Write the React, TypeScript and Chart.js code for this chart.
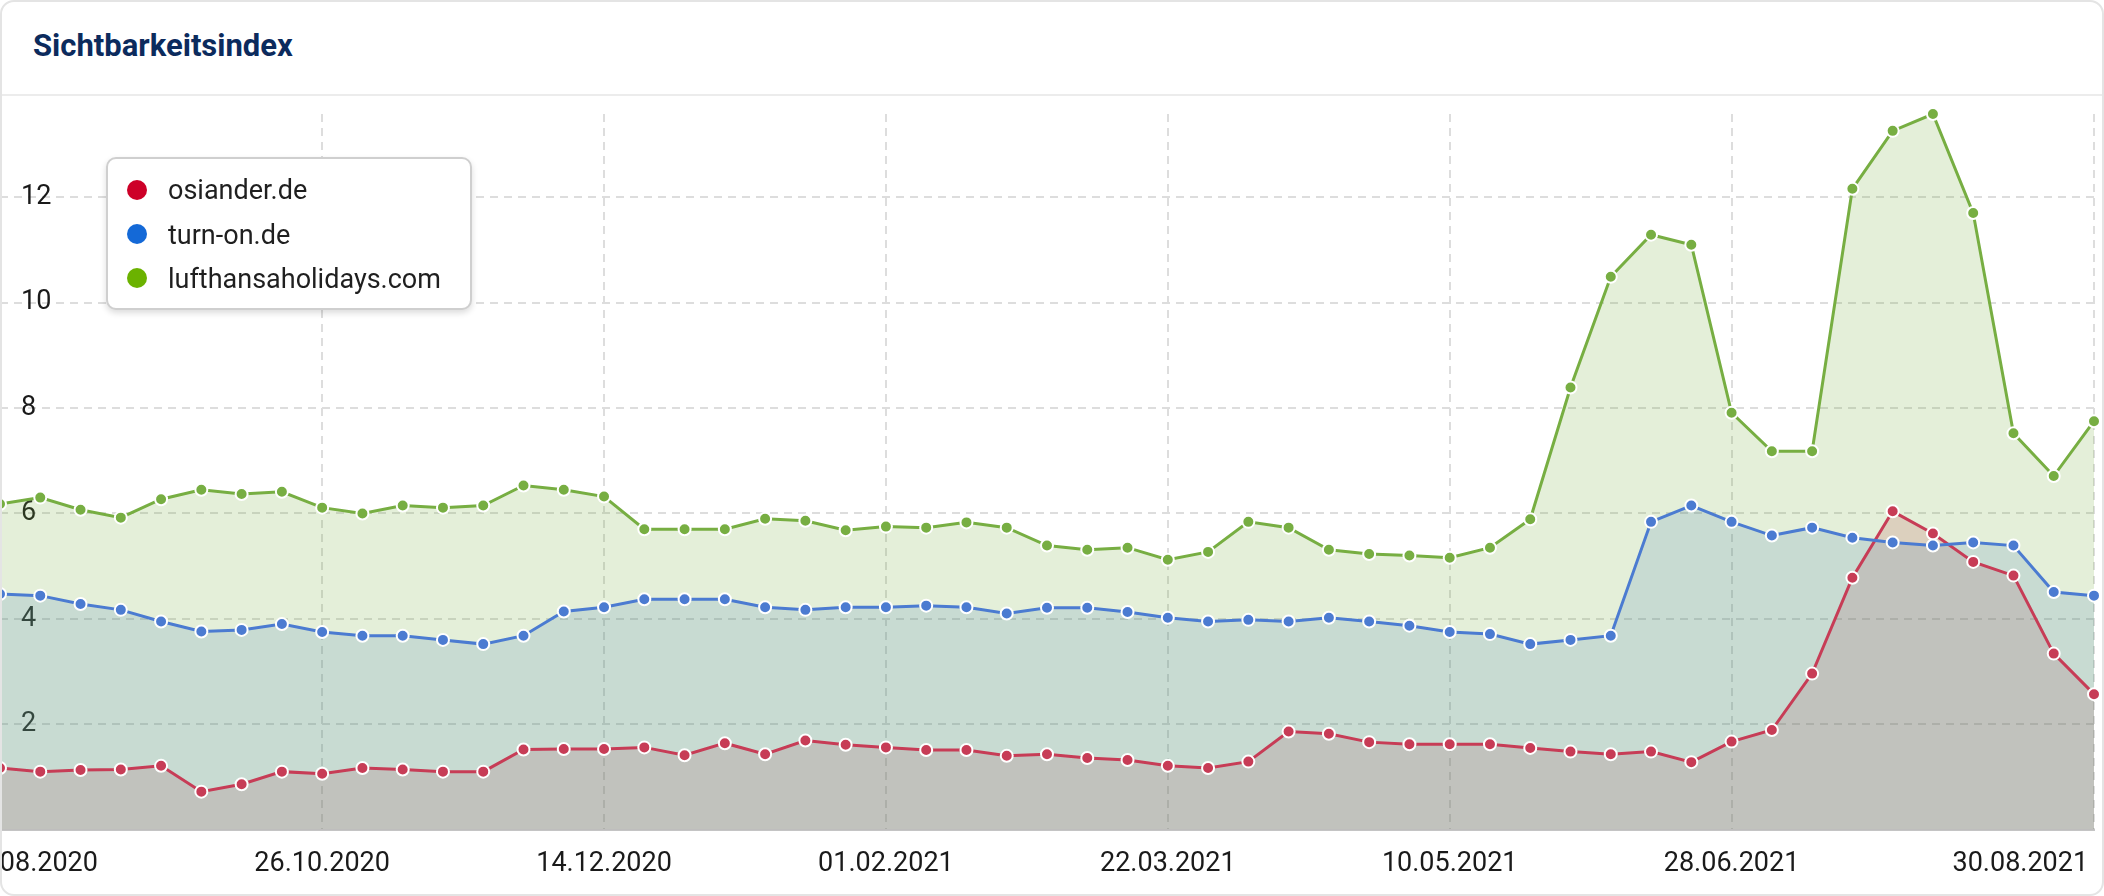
import React, { useEffect, useRef } from "react";
import { Chart, registerables } from "chart.js";

Chart.register(...registerables);

const TITLE = "Sichtbarkeitsindex";

const DATES = [
  "31.08.2020", "07.09.2020", "14.09.2020", "21.09.2020", "28.09.2020", "05.10.2020", "12.10.2020", "19.10.2020",
  "26.10.2020", "02.11.2020", "09.11.2020", "16.11.2020", "23.11.2020", "30.11.2020", "07.12.2020", "14.12.2020",
  "21.12.2020", "28.12.2020", "04.01.2021", "11.01.2021", "18.01.2021", "25.01.2021", "01.02.2021", "08.02.2021",
  "15.02.2021", "22.02.2021", "01.03.2021", "08.03.2021", "15.03.2021", "22.03.2021", "29.03.2021", "05.04.2021",
  "12.04.2021", "19.04.2021", "26.04.2021", "03.05.2021", "10.05.2021", "17.05.2021", "24.05.2021", "31.05.2021",
  "07.06.2021", "14.06.2021", "21.06.2021", "28.06.2021", "05.07.2021", "12.07.2021", "19.07.2021", "26.07.2021",
  "02.08.2021", "09.08.2021", "16.08.2021", "23.08.2021", "30.08.2021",
];

const TICK_DATES = [
  "31.08.2020", "26.10.2020", "14.12.2020", "01.02.2021", "22.03.2021", "10.05.2021", "28.06.2021", "30.08.2021",
];

const OSIANDER = [
  1.17, 1.10, 1.13, 1.14, 1.21, 0.72, 0.86, 1.10, 1.06, 1.17, 1.14, 1.10, 1.10, 1.52, 1.53, 1.53,
  1.56, 1.41, 1.64, 1.43, 1.69, 1.61, 1.56, 1.51, 1.51, 1.40, 1.43, 1.36, 1.32, 1.21, 1.17, 1.29,
  1.86, 1.82, 1.66, 1.62, 1.62, 1.62, 1.55, 1.48, 1.43, 1.48, 1.28, 1.67, 1.89, 2.96, 4.78, 6.04,
  5.62, 5.08, 4.82, 3.34, 2.57,
];

const TURN_ON = [
  4.47, 4.44, 4.28, 4.17, 3.95, 3.76, 3.79, 3.90, 3.75, 3.68, 3.68, 3.60, 3.52, 3.68, 4.14, 4.22,
  4.37, 4.37, 4.37, 4.22, 4.17, 4.22, 4.22, 4.25, 4.22, 4.10, 4.21, 4.21, 4.13, 4.02, 3.95, 3.98,
  3.95, 4.02, 3.95, 3.87, 3.75, 3.71, 3.52, 3.60, 3.68, 5.84, 6.15, 5.84, 5.58, 5.73, 5.54, 5.45,
  5.39, 5.45, 5.39, 4.51, 4.44,
];

const LUFTHANSA = [
  6.18, 6.30, 6.07, 5.92, 6.27, 6.45, 6.37, 6.41, 6.11, 6.00, 6.15, 6.11, 6.15, 6.53, 6.45, 6.32,
  5.70, 5.70, 5.70, 5.90, 5.86, 5.68, 5.75, 5.73, 5.83, 5.73, 5.39, 5.31, 5.35, 5.12, 5.27, 5.84,
  5.73, 5.31, 5.23, 5.20, 5.16, 5.35, 5.89, 8.39, 10.49, 11.29, 11.10, 7.91, 7.18, 7.18, 12.16, 13.26,
  13.58, 11.70, 7.52, 6.71, 7.75,
];

const SERIES_NAMES = ["osiander.de", "turn-on.de", "lufthansaholidays.com"];
const LINE_COLORS = ["#c73c56", "#4b7bd1", "#77ae42"];
const FILL_COLORS = ["rgba(199,60,86,0.2)", "rgba(75,123,209,0.2)", "rgba(119,174,66,0.2)"];
const LEGEND_COLORS = ["#cd0028", "#1469d7", "#6bb200"];

const Y_MAX = Math.max(...LUFTHANSA);
const FONT = "Roboto";

export default function App() {
  const canvasRef = useRef<HTMLCanvasElement>(null);

  useEffect(() => {
    const series = [OSIANDER, TURN_ON, LUFTHANSA];
    const chart = new Chart(canvasRef.current as HTMLCanvasElement, {
      type: "line",
      data: {
        labels: DATES,
        datasets: series.map((data, i) => ({
          label: SERIES_NAMES[i],
          data,
          order: 2 - i,
          borderColor: LINE_COLORS[i],
          backgroundColor: FILL_COLORS[i],
          pointBackgroundColor: LINE_COLORS[i],
          pointBorderColor: "#ffffff",
          pointBorderWidth: 2,
          pointRadius: 6,
          pointHoverRadius: 6,
          borderWidth: 3,
          fill: "origin",
          tension: 0,
          clip: false as any,
        })),
      },
      options: {
        animation: false,
        responsive: true,
        maintainAspectRatio: false,
        events: [],
        layout: { padding: { left: 80, top: 40, right: 200, bottom: 0 } },
        plugins: {
          legend: { display: false },
          tooltip: { enabled: false },
          filler: { drawTime: "beforeDatasetsDraw" } as any,
        },
        scales: {
          x: {
            type: "category",
            offset: false,
            grid: {
              display: true,
              drawTicks: false,
              lineWidth: 2,
              color: (ctx: any) => (TICK_DATES.includes(DATES[ctx.index]) ? "#dddddd" : "rgba(0,0,0,0)"),
            },
            border: { display: true, color: "#c4c4c4", width: 2, dash: [8, 6] },
            ticks: {
              autoSkip: false,
              maxRotation: 0,
              minRotation: 0,
              padding: 18,
              color: "#1a1a1a",
              font: { size: 27, family: FONT },
              callback: (_v: any, index: number) => {
                const label = DATES[index];
                if (!TICK_DATES.includes(label)) return "";
                if (index === 0) return " ".repeat(9) + label;
                if (index === DATES.length - 1) return label + " ".repeat(22);
                return label;
              },
            },
          },
          y: {
            min: 0,
            max: Y_MAX,
            grid: {
              drawTicks: false,
              lineWidth: 2,
              color: (ctx: any) => (ctx.tick && ctx.tick.value === 0 ? "rgba(0,0,0,0)" : "#dddddd"),
            },
            border: { display: false, dash: [8, 6] },
            ticks: {
              stepSize: 2,
              includeBounds: false,
              mirror: true,
              crossAlign: "near",
              padding: 21,
              color: "#1a1a1a",
              font: { size: 27, family: FONT },
              callback: (v: any) => (v === 0 ? "" : String(v)),
            },
          },
        },
      } as any,
    });
    return () => chart.destroy();
  }, []);

  const rowCenters = [30.5, 75, 119];

  return (
    <div
      style={{
        position: "absolute",
        left: 0,
        top: 0,
        width: 2104,
        height: 896,
        boxSizing: "border-box",
        border: "2px solid #e4e4e4",
        borderRadius: 14,
        overflow: "hidden",
        background: "#ffffff",
        fontFamily: FONT,
      }}
    >
      <div
        style={{
          position: "absolute",
          left: 31,
          top: 28,
          fontFamily: FONT,
          fontWeight: 700,
          fontSize: 31,
          lineHeight: "31px",
          color: "#0c2b5d",
          whiteSpace: "nowrap",
        }}
      >
        {TITLE}
      </div>
      <div style={{ position: "absolute", left: 0, right: 0, top: 92, height: 2, background: "#ececec" }} />
      <div style={{ position: "absolute", left: -124, top: 72, width: 2416, height: 824 }}>
        <canvas ref={canvasRef} />
      </div>
      <div
        style={{
          position: "absolute",
          left: 104,
          top: 155,
          width: 366,
          height: 153,
          boxSizing: "border-box",
          border: "2px solid #cfcfcf",
          borderRadius: 10,
          background: "#ffffff",
          boxShadow: "0 3px 6px rgba(0,0,0,0.14)",
        }}
      >
        {SERIES_NAMES.map((name, i) => (
          <React.Fragment key={name}>
            <div
              style={{
                position: "absolute",
                left: 19,
                top: rowCenters[i] - 10,
                width: 20,
                height: 20,
                borderRadius: "50%",
                background: LEGEND_COLORS[i],
              }}
            />
            <div
              style={{
                position: "absolute",
                left: 60,
                top: rowCenters[i] - 12.2,
                fontSize: 27,
                lineHeight: "27px",
                color: "#1f1f1f",
                whiteSpace: "nowrap",
                fontFamily: FONT,
              }}
            >
              {name}
            </div>
          </React.Fragment>
        ))}
      </div>
    </div>
  );
}
